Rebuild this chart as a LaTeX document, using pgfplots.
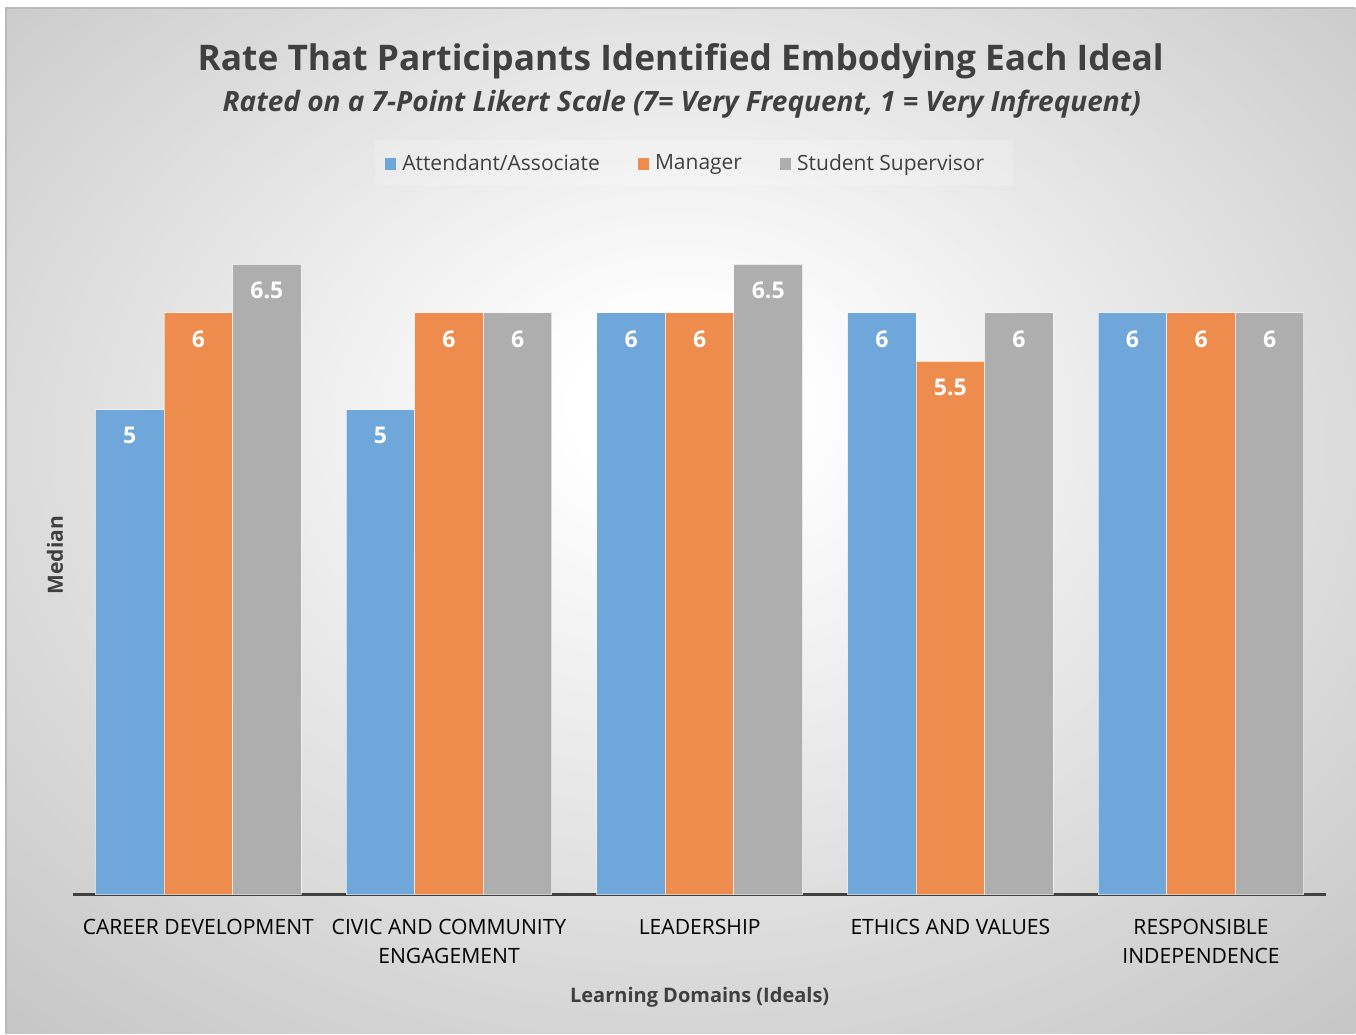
\documentclass[border=0pt]{standalone}
\usepackage{pgfplots}
\pgfplotsset{compat=1.18}
\usepackage{fontspec}
\setmainfont{Open Sans}
\definecolor{cblue}{HTML}{6FA7DA}
\definecolor{corange}{HTML}{ED8C4D}
\definecolor{cgray}{HTML}{AEAEAE}
\definecolor{txt}{HTML}{404040}
\definecolor{bgout}{HTML}{C4C4C4}
\pgfdeclareradialshading{bgshade}{\pgfpoint{0bp}{6bp}}{color(0bp)=(white); color(4bp)=(white); color(38bp)=(bgout); color(60bp)=(bgout)}
\begin{document}
\begin{tikzpicture}
\fill[white] (0pt,0pt) rectangle (678pt,517pt);
\shade[shading=bgshade] (3pt,0pt) rectangle (678pt,513pt);
\draw[gray!55, line width=0.6pt] (3pt,0pt) -- (3pt,513pt) -- (678pt,513pt);
\fill[white, opacity=0.18] (187.5pt,424.5pt) rectangle (506.5pt,447pt);
\node[anchor=base, text=txt, font=\bfseries\fontsize{17.65}{20}\selectfont] at (340.5pt,481.5pt) {Rate That Participants Identified Embodying Each Ideal};
\node[anchor=base, text=txt, font=\bfseries\itshape\fontsize{14}{16}\selectfont] at (341pt,461pt) {Rated on a 7-Point Likert Scale (7= Very Frequent, 1 = Very Infrequent)};
\begin{axis}[
  at={(36.5pt,69.5pt)}, anchor=south west,
  scale only axis, width=627pt, height=339.5pt,
  ymin=0, ymax=7, xmin=-0.5, xmax=4.5,
  axis x line*=bottom, axis y line*=left,
  x axis line style={draw=txt, line width=1.5pt},
  y axis line style={draw=none},
  ytick=\empty,
  xtick={0,1,2,3,4},
  xticklabels={CAREER DEVELOPMENT, {CIVIC AND COMMUNITY\\ENGAGEMENT}, LEADERSHIP, ETHICS AND VALUES, {RESPONSIBLE\\INDEPENDENCE}},
  major tick length=0pt,
  xticklabel style={align=center, font=\fontsize{10.55}{14.5}\selectfont, text=black, anchor=north, yshift=-9pt},
  ybar=0pt, bar width=34.3pt,
  /pgf/number format/assume math mode=true,
  nodes near coords,
  every node near coord/.append style={anchor=center, yshift=-13pt, text=white, font=\bfseries\fontsize{11.5}{12}\selectfont},
  xlabel={Learning Domains (Ideals)},
  xlabel style={at={(axis description cs:0.5,0)}, anchor=base, yshift=-54pt, font=\bfseries\fontsize{10}{12}\selectfont, text=txt},
  ylabel={Median},
  ylabel style={at={(axis description cs:-0.0144,0.5)}, anchor=center, rotate=0, font=\bfseries\fontsize{10.5}{12}\selectfont, text=txt},
  legend columns=3,
  legend style={at={(axis description cs:0.4896,1.0765)}, anchor=center, draw=none, fill=none, text=txt, font=\fontsize{10.5}{12}\selectfont, /tikz/every even column/.append style={column sep=17pt}, /tikz/every odd column/.append style={column sep=1pt}, nodes={inner sep=2pt}},
  legend image code/.code={\fill[#1, draw=none] (0pt,-2.8pt) rectangle (5.6pt,2.8pt);},
]
\addplot[fill=cblue, draw=white, draw opacity=0.6, line width=0.5pt] coordinates {(0,5) (1,5) (2,6) (3,6) (4,6)};
\addplot[fill=corange, draw=white, draw opacity=0.6, line width=0.5pt] coordinates {(0,6) (1,6) (2,6) (3,5.5) (4,6)};
\addplot[fill=cgray, draw=white, draw opacity=0.6, line width=0.5pt] coordinates {(0,6.5) (1,6) (2,6.5) (3,6) (4,6)};
\legend{Attendant/Associate, Manager, Student Supervisor}
\end{axis}
\end{tikzpicture}
\end{document}
